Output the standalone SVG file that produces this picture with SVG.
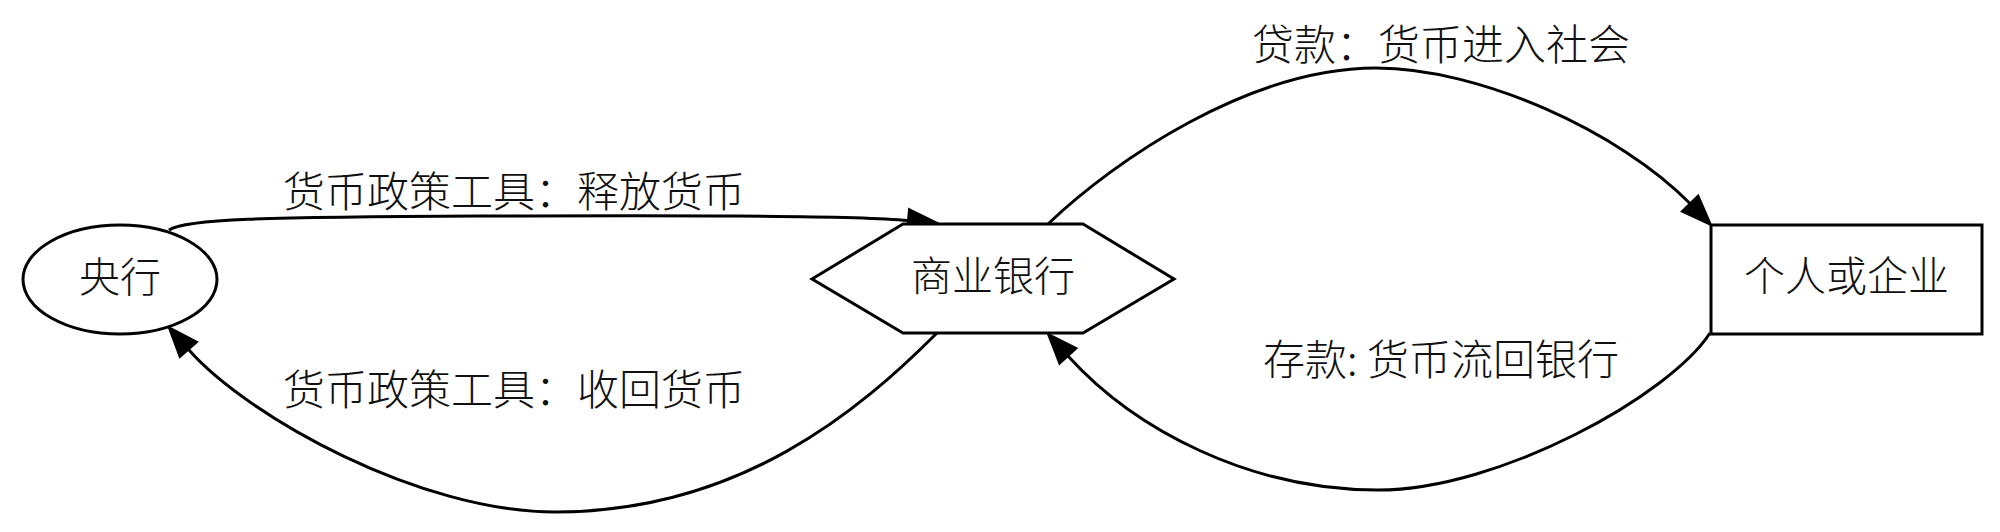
<svg xmlns="http://www.w3.org/2000/svg" width="2000" height="532" viewBox="0 0 2000 532">
<style>
.node{fill:#fff;stroke:#000;stroke-width:3}
.edge{fill:none;stroke:#000;stroke-width:3}
text{font-family:"Noto Sans CJK SC","Noto Sans",sans-serif;font-weight:300;fill:#111;text-anchor:middle}
.nl{font-size:41px}
.el{font-size:42px}
</style>
<defs>
<marker id="arr" markerUnits="userSpaceOnUse" viewBox="-2 -14 36 28" refX="0" refY="0" markerWidth="36" markerHeight="28" orient="auto" overflow="visible">
<path d="M0,-11.5 L30,0 L0,11.5 z" fill="#000" stroke="#000" stroke-width="2"/>
</marker>
</defs>
<rect width="2000" height="532" fill="#fff"/>
<g id="connectors">
<path class="edge" marker-end="url(#arr)" d="M169,230 C185,219 260,217 480,216 C650,215.5 850,215 908,220.5"/>
<path class="edge" marker-end="url(#arr)" d="M937,333 C860,410 740,512 555,512 C420,512 248,417 188.5,349.5"/>
<path class="edge" marker-end="url(#arr)" d="M1048,224 C1115,160 1250,68 1376,68 C1480,68 1620,132 1690,203.5"/>
<path class="edge" marker-end="url(#arr)" d="M1710,333 C1670,395 1500,490 1378,490 C1250,490 1135,430 1068,356"/>
<text class="el" x="514" y="206.5">货币政策工具：释放货币</text>
<text class="el" x="514" y="404.5">货币政策工具：收回货币</text>
<text class="el" x="1441" y="59.5">贷款：货币进入社会</text>
<text class="el" x="1441" y="374.5">存款: 货币流回银行</text>
</g>
<g id="central-bank">
<ellipse class="node" cx="120" cy="279.5" rx="97" ry="54.5"/>
<text class="nl" x="120" y="291.5">央行</text>
</g>
<g id="commercial-bank">
<polygon class="node" points="812,279 903,224 1083,224 1174,279 1083,333 903,333"/>
<text class="nl" x="993" y="291">商业银行</text>
</g>
<g id="individual-or-enterprise">
<rect class="node" x="1711" y="225" width="271" height="109"/>
<text class="nl" x="1846.5" y="291">个人或企业</text>
</g>
</svg>
